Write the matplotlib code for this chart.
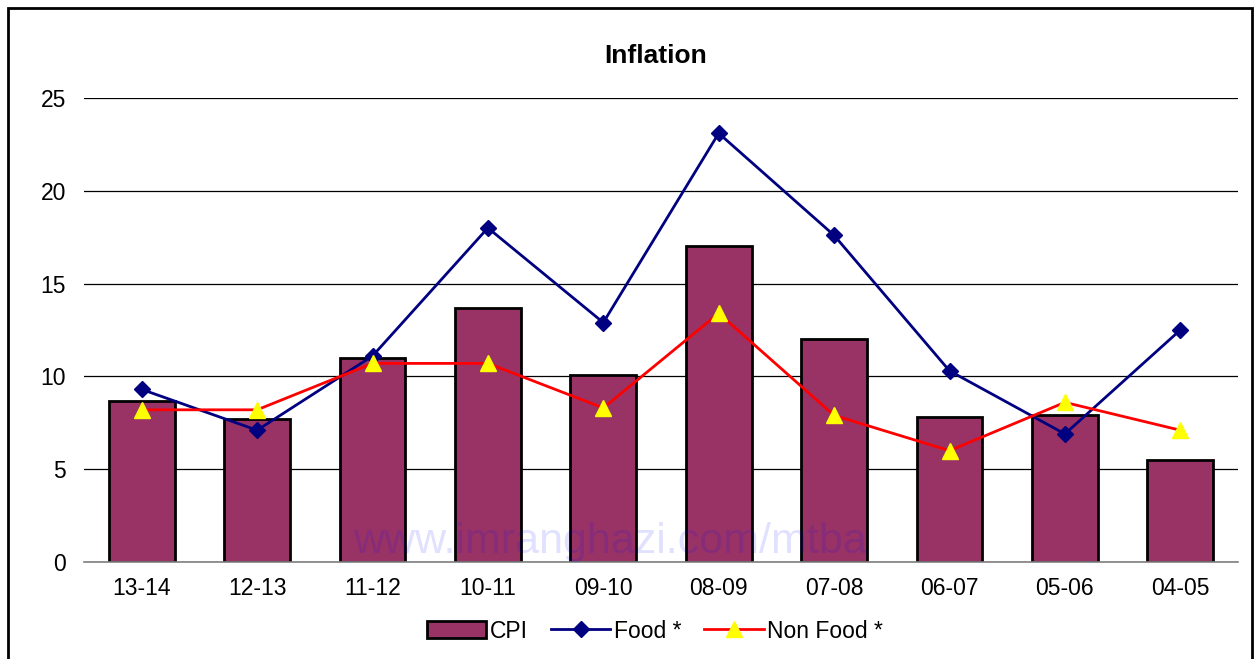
import numpy as np
import matplotlib.pyplot as plt
from matplotlib.patches import Rectangle

plt.rcParams['font.family'] = ['Liberation Sans', 'DejaVu Sans']

# fiscal years, most recent first
years = ['13-14', '12-13', '11-12', '10-11', '09-10', '08-09', '07-08', '06-07', '05-06', '04-05']
cpi = [8.7, 7.7, 11.0, 13.7, 10.1, 17.0, 12.0, 7.8, 7.9, 5.5]
food = [9.3, 7.1, 11.1, 18.0, 12.9, 23.1, 17.6, 10.3, 6.9, 12.5]
non_food = [8.2, 8.2, 10.7, 10.7, 8.3, 13.4, 7.9, 6.0, 8.6, 7.1]

fig = plt.figure(figsize=(12.58, 6.59), dpi=100)
ax = fig.add_axes([84/1258, 1-562/659, (1238-84)/1258, (562-98)/659])

x = np.arange(len(years))
bars = ax.bar(x, cpi, width=0.57, color='#993366', edgecolor='black', linewidth=2, label='CPI', zorder=2)
l1, = ax.plot(x, food, color='#000080', lw=2, marker='D', ms=8, mfc='#000080', mec='#000080', label='Food *', zorder=3)
l2, = ax.plot(x, non_food, color='#ff0000', lw=2, marker='^', ms=11, mfc='#ffff00', mec='#ffff00', label='Non Food *', zorder=3)

ax.set_xlim(-0.5, len(years) - 0.5)
ax.set_ylim(0, 25)
ax.set_yticks([0, 5, 10, 15, 20, 25])
ax.set_xticks(x)
ax.set_xticklabels(years)
ax.yaxis.grid(True, color='black', lw=0.9, zorder=0)
ax.set_axisbelow(True)
for s in ['top', 'right', 'left']:
    ax.spines[s].set_visible(False)
ax.spines['bottom'].set_color('#808080')
ax.spines['bottom'].set_linewidth(1.2)
ax.tick_params(axis='both', length=0, labelsize=16.5)
ax.tick_params(axis='x', pad=11)
ax.tick_params(axis='y', pad=13)

fig.text(656/1258, 1-56/659, 'Inflation', ha='center', va='center', fontsize=19, fontweight='bold')

# watermark
fig.text(610/1258, 1-542/659, 'www.imranghazi.com/mtba', ha='center', va='center',
         fontsize=31, color='#0000ff', alpha=0.12, zorder=5)

fig.legend([bars, l1, l2], ['CPI', 'Food *', 'Non Food *'], loc='center',
           bbox_to_anchor=(655/1258, 1-631/659), ncol=3, frameon=False, fontsize=16.5,
           handlelength=2.6, columnspacing=1.0, handletextpad=0.15)

# outer frame around the chart
fig.patches.append(Rectangle((8/1258, -0.05), (1252-8)/1258, 1.05 - 8/659, transform=fig.transFigure,
                             fill=False, edgecolor='black', lw=2))

fig.savefig('out.png', dpi=100, facecolor='white')
